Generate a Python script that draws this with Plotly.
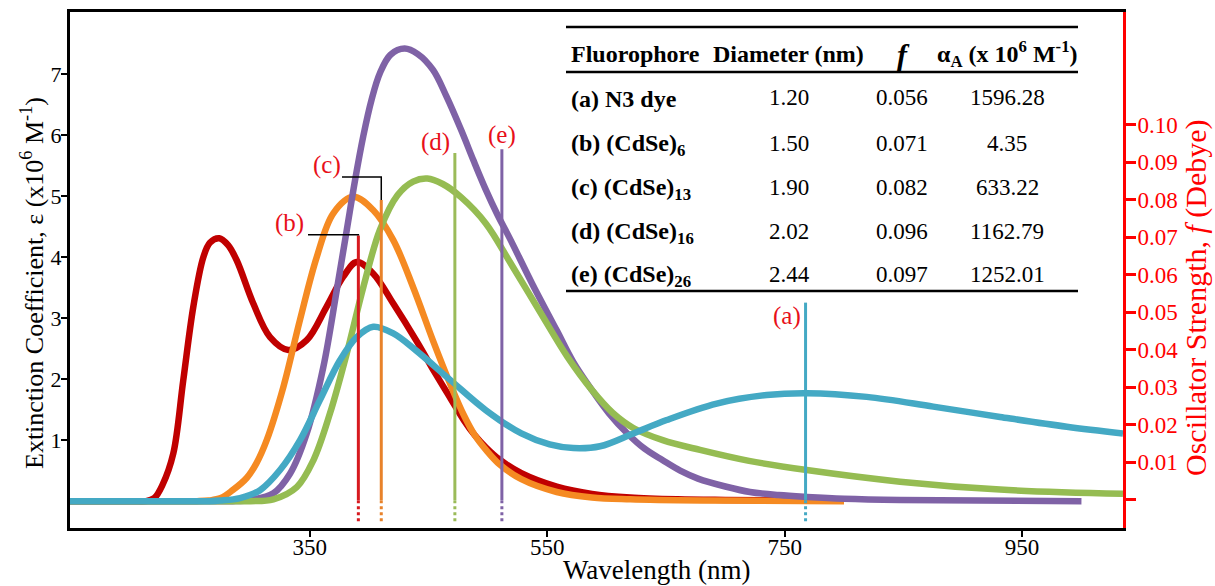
import plotly.graph_objects as go

FONT = "Liberation Serif"

# ---------------- data ----------------
# (b) (CdSe)6 - dark red
wl_b = [148, 200, 212, 219, 226, 235, 243.4, 251.9, 260.3, 266, 273.8, 281, 288.4, 302.4, 316.5,
        331.9, 347.4, 364.2, 378.2, 389.5, 403.5, 420.3, 440.1, 455, 468.7, 480, 489, 498.4,
        510, 528.2, 558, 587.7, 620, 660, 700, 800]
eps_b = [0, 0, 0, 0.05, 0.27, 0.78, 1.98, 3.19, 4.0, 4.24, 4.31, 4.2, 3.95, 3.24, 2.69,
         2.48, 2.64, 3.19, 3.68, 3.92, 3.73, 3.24, 2.62, 2.12, 1.68, 1.32, 1.08, 0.88,
         0.68, 0.46, 0.24, 0.12, 0.06, 0.03, 0.02, 0.01]

# (c) (CdSe)13 - orange
wl_c = [148, 240, 255, 265, 275, 285, 296.8, 305, 313.7, 327.7, 341.7, 355.8, 369.8, 386.6,
        403.5, 420.3, 437.2, 454, 468.7, 480, 489, 498.4, 510, 528.2, 558, 587.7, 620, 680, 800]
eps_c = [0, 0, 0, 0.01, 0.05, 0.18, 0.38, 0.62, 1.0, 1.87, 2.97, 4.0, 4.72, 4.99,
         4.77, 4.28, 3.5, 2.62, 1.9, 1.4, 1.08, 0.84, 0.6, 0.36, 0.15, 0.06, 0.03, 0.01, 0]

# (e) (CdSe)26 - purple
wl_e = [148, 270, 285, 299.6, 319.3, 333.3, 347.4, 361.4, 372.7, 381.1, 388.1, 395, 402,
        409.1, 418, 429.9, 441, 453.8, 465, 477.6, 488, 498.4, 508, 519.2, 537.2, 558, 572,
        587.7, 602, 617.5, 632, 647.3, 662, 677, 700, 720.8, 745, 768.6, 800, 847.2, 1000]
eps_e = [0, 0, 0, 0.02, 0.13, 0.45, 1.11, 2.2, 3.46, 4.44, 5.26, 5.98, 6.58,
         7.02, 7.32, 7.42, 7.33, 7.07, 6.64, 6.08, 5.58, 5.10, 4.70, 4.28, 3.57, 2.80, 2.28,
         1.82, 1.44, 1.11, 0.86, 0.67, 0.50, 0.37, 0.24, 0.15, 0.10, 0.07, 0.04, 0.02, 0]

# (d) (CdSe)16 - green
wl_d = [148, 280, 300, 319.3, 339.0, 353.0, 367.0, 381.1, 395.1, 409.1, 424, 437, 449, 462,
        477.6, 498.4, 519.2, 543.1, 566.9, 587.7, 605, 622.5, 647.3, 678.7, 720, 768.6,
        847.2, 931.4, 1035]
eps_d = [0, 0, 0, 0.03, 0.23, 0.67, 1.44, 2.42, 3.51, 4.45, 5.02, 5.24, 5.29, 5.20,
         4.98, 4.55, 3.90, 3.13, 2.37, 1.82, 1.45, 1.20, 1.0, 0.84, 0.66, 0.51,
         0.32, 0.19, 0.12]

# (a) N3 dye - cyan
wl_a = [148, 250, 265, 274.4, 291.2, 308.1, 324.9, 341.8, 358.6, 375.4, 389.5, 403.5, 420.3,
        438.9, 468.7, 498.4, 528.2, 552, 572, 594.5, 622.5, 650.6, 692.8, 734.9, 768.6,
        819.1, 875.2, 931.4, 987.6, 1035]
eps_a = [0, 0, 0, 0.01, 0.05, 0.18, 0.51, 1.0, 1.66, 2.31, 2.69, 2.86, 2.75,
         2.48, 1.98, 1.49, 1.11, 0.93, 0.87, 0.90, 1.11, 1.33, 1.60, 1.74, 1.77,
         1.71, 1.55, 1.38, 1.22, 1.11]

# oscillator strength sticks (a)..(e)
stick_labels = ["(a)", "(b)", "(c)", "(d)", "(e)"]
stick_wl = [767.6, 390.9, 410.2, 472.2, 511.8]
stick_f = [0.0526, 0.0705, 0.080, 0.0925, 0.0935]
stick_label_wl = [752.0, 333.3, 364.5, 455.5, 511.9]
stick_label_f = [0.0491, 0.0739, 0.0893, 0.0955, 0.0973]
# leader brackets for (b) and (c): level and start wavelength
bracket_idx = [1, 2]
bracket_f = [0.0707, 0.0861]
bracket_start_wl = [348.5, 377.1]

# table
tbl_header = ["Fluorophore", "Diameter (nm)", "<i>f</i>", "α<sub>A</sub> (x 10<sup>6</sup> M<sup>-1</sup>)"]
tbl_fluor = ["(a) N3 dye", "(b) (CdSe)<sub>6</sub>", "(c) (CdSe)<sub>13</sub>",
             "(d) (CdSe)<sub>16</sub>", "(e) (CdSe)<sub>26</sub>"]
tbl_diam = ["1.20", "1.50", "1.90", "2.02", "2.44"]
tbl_f = ["0.056", "0.071", "0.082", "0.096", "0.097"]
tbl_alpha = ["1596.28", "4.35", "633.22", "1162.79", "1252.01"]

x_ticks = [350, 550, 750, 950]
y_ticks = [1, 2, 3, 4, 5, 6, 7]
y2_ticks = [0, 0.01, 0.02, 0.03, 0.04, 0.05, 0.06, 0.07, 0.08, 0.09, 0.10]

# ---------------- styling ----------------
C_RED = "#C00000"
C_ORANGE = "#F58A22"
C_PURPLE = "#7F62A6"
C_GREEN = "#95BC52"
C_CYAN = "#44A9C4"
stick_colors = [C_CYAN, "#D7191F", "#E8822A", "#9BBB59", C_PURPLE]
LABEL_RED = "#E8101A"
AX_RED = "#FF0000"

fig = go.Figure()

curves = [(wl_b, eps_b, C_RED), (wl_c, eps_c, C_ORANGE), (wl_e, eps_e, C_PURPLE),
          (wl_d, eps_d, C_GREEN), (wl_a, eps_a, C_CYAN)]
for wl, ep, col in curves:
    fig.add_trace(go.Scatter(x=wl, y=ep, mode="lines",
                             line=dict(color=col, width=6.5, shape="spline", smoothing=1.0),
                             hoverinfo="skip", showlegend=False))

DOT_BOTTOM = -0.0057
for wl, f, col in zip(stick_wl, stick_f, stick_colors):
    fig.add_trace(go.Scatter(x=[wl, wl], y=[0, f], mode="lines", yaxis="y2",
                             line=dict(color=col, width=3), hoverinfo="skip", showlegend=False))
    fig.add_trace(go.Scatter(x=[wl, wl], y=[DOT_BOTTOM, 0], mode="lines", yaxis="y2",
                             line=dict(color=col, width=3, dash="dot"),
                             hoverinfo="skip", showlegend=False))

for i, bf, bw in zip(bracket_idx, bracket_f, bracket_start_wl):
    fig.add_trace(go.Scatter(x=[bw, stick_wl[i], stick_wl[i]], y=[bf, bf, stick_f[i]],
                             mode="lines", yaxis="y2",
                             line=dict(color="black", width=1.5),
                             hoverinfo="skip", showlegend=False))

annotations = []
for lab, lx, ly in zip(stick_labels, stick_label_wl, stick_label_f):
    annotations.append(dict(x=lx, y=ly, xref="x", yref="y2", text=lab, showarrow=False,
                            font=dict(family=FONT, size=25, color=LABEL_RED),
                            xanchor="center", yanchor="middle"))

# geometry helpers (paper coordinates from page pixels)
PL, PW, PT, PH = 70, 1053, 12, 516
def px(x):
    return (x - PL) / PW
def py(y):
    return (PT + PH - y) / PH

# axis titles
annotations.append(dict(x=px(657), y=py(570), xref="paper", yref="paper",
                        text="Wavelength (nm)", showarrow=False,
                        font=dict(family=FONT, size=27, color="black"),
                        xanchor="center", yanchor="middle"))
annotations.append(dict(x=px(32), y=py(283), xref="paper", yref="paper",
                        text="Extinction Coefficient, ε (x10<sup>6</sup> M<sup>-1</sup>)",
                        showarrow=False, textangle=-90,
                        font=dict(family=FONT, size=26, color="black"),
                        xanchor="center", yanchor="middle"))
annotations.append(dict(x=px(1196), y=py(298), xref="paper", yref="paper",
                        text="Oscillator Strength, <i>f</i> (Debye)",
                        showarrow=False, textangle=-90,
                        font=dict(family=FONT, size=30, color=AX_RED),
                        xanchor="center", yanchor="middle"))

# table
col_x = [px(569), px(789), px(902), px(1007)]
hdr_x = [px(569), px(788), px(903), px(1007)]
label_row_y = [99, 145, 189, 233, 276]
value_row_y = [98, 143, 187, 231, 274]
for j, h in enumerate(tbl_header):
    annotations.append(dict(x=hdr_x[j], y=py(54), xref="paper", yref="paper",
                            text="<b>" + h + "</b>", showarrow=False,
                            font=dict(family=FONT, size=30 if j == 2 else 24, color="black"),
                            xanchor="left" if j == 0 else "center", yanchor="middle"))
for i in range(len(tbl_fluor)):
    vals = ["<b>" + tbl_fluor[i] + "</b>", tbl_diam[i], tbl_f[i], tbl_alpha[i]]
    for j, v in enumerate(vals):
        yy = label_row_y[i] if j == 0 else value_row_y[i]
        annotations.append(dict(x=col_x[j], y=py(yy), xref="paper", yref="paper",
                                text=v, showarrow=False,
                                font=dict(family=FONT, size=24 if j == 0 else 23, color="black"),
                                xanchor="left" if j == 0 else "center", yanchor="middle"))

shapes = []
for yy in [27, 72, 291]:
    shapes.append(dict(type="line", xref="paper", yref="paper", x0=px(566), x1=px(1078),
                       y0=py(yy), y1=py(yy), line=dict(color="black", width=2.5)))

fig.update_layout(
    width=1215, height=586,
    margin=dict(l=70, r=92, t=12, b=58),
    paper_bgcolor="white", plot_bgcolor="white",
    font=dict(family=FONT, color="black"),
    showlegend=False,
    annotations=annotations,
    shapes=shapes,
    xaxis=dict(range=[148, 1035], tickvals=x_ticks, ticks="outside", ticklen=6, tickwidth=2,
               tickcolor="black", showline=True, linewidth=3, linecolor="black", mirror=True,
               showgrid=False, zeroline=False, automargin=False, ticklabelstandoff=-10,
               tickfont=dict(family=FONT, size=23)),
    yaxis=dict(range=[-0.44, 8.02], tickvals=y_ticks, ticks="outside", ticklen=6, tickwidth=2,
               tickcolor="black", showline=True, linewidth=3, linecolor="black",
               showgrid=False, zeroline=False, automargin=False, ticklabelstandoff=-5,
               tickfont=dict(family=FONT, size=22)),
    yaxis2=dict(range=[-0.0075, 0.1301], overlaying="y", side="right", anchor="x",
                tickvals=y2_ticks, ticktext=[""] + ["%.2f" % v for v in y2_ticks[1:]],
                ticks="outside", ticklen=10, tickwidth=3, tickcolor=AX_RED,
                showline=True, linewidth=3, linecolor=AX_RED, ticklabelstandoff=-3,
                showgrid=False, zeroline=False, automargin=False,
                tickfont=dict(family=FONT, size=23, color=AX_RED)),
)

fig.write_html("out.html", config={"displayModeBar": False},
               post_script="document.body.style.margin='0';document.body.style.overflow='hidden';")
